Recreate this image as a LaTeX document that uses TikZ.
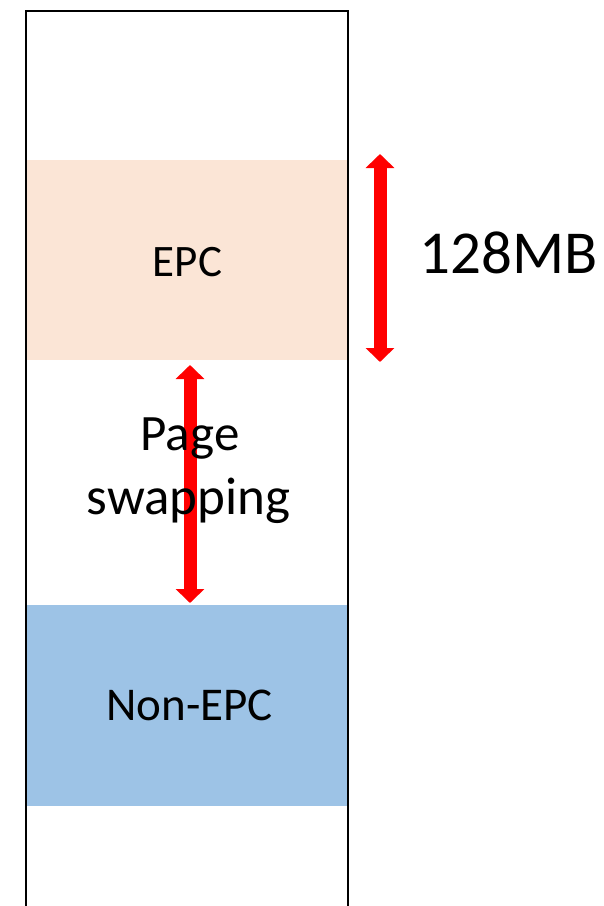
\documentclass[tikz,border=0pt]{standalone}
\usepackage{fontspec}
\setmainfont{Carlito}
\usetikzlibrary{arrows.meta}
\definecolor{epcfill}{HTML}{FBE5D6}
\definecolor{nonepcfill}{HTML}{9DC3E6}
\definecolor{arrowred}{HTML}{FF0000}
\tikzset{
  region/.style={fill=#1, draw=none},
  frame/.style={draw=black, line width=2.2pt},
  bigarrow/.style={draw=arrowred, line width=13pt,
    {Triangle[width=28pt,length=14pt]}-{Triangle[width=28pt,length=14pt]}},
  label/.style={inner sep=0pt, anchor=base, text=black},
}
\begin{document}
\begin{tikzpicture}[x=1pt,y=-1pt]
\useasboundingbox (0,0) rectangle (604,906);
\begin{scope}
\clip (0,0) rectangle (604,906);
% memory regions
\fill[region=epcfill] (26,160) rectangle (348,360);
\fill[region=nonepcfill] (26,605) rectangle (348,806);
% memory column outline (open at the bottom)
\draw[frame] (26,920) -- (26,11) -- (348,11) -- (348,920);
\end{scope}
% arrow end points
\coordinate (sizetop) at (380,154);
\coordinate (sizebot) at (380,362);
\coordinate (swaptop) at (190,365);
\coordinate (swapbot) at (190,603);
\draw[bigarrow] (sizetop) -- (sizebot);
\draw[bigarrow] (swaptop) -- (swapbot);
% labels
\node[label, font=\fontsize{45}{54}\selectfont] (epc) at (187.5,276.5) {EPC};
\node[label, font=\fontsize{47}{56}\selectfont] (nonepc) at (189.5,720.5) {Non-EPC};
\node[label, font=\fontsize{61}{73}\selectfont] (size) at (509,273.3) {128MB};
\node[label, font=\fontsize{51}{61}\selectfont] (page) at (190,450) {Page};
\node[label, font=\fontsize{53}{61}\selectfont] (swapping) at (188.5,514) {swapping};
\end{tikzpicture}
\end{document}
